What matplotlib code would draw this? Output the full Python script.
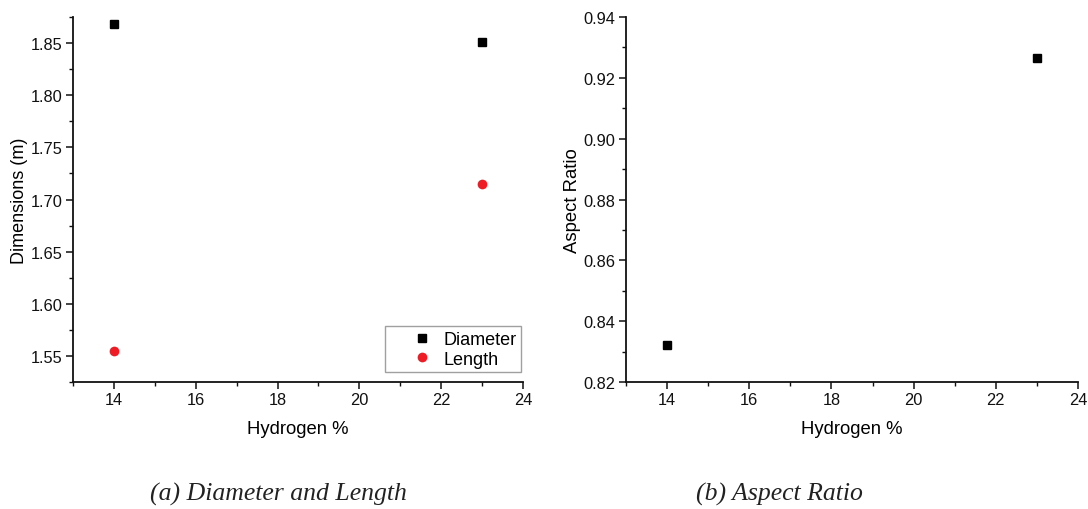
import matplotlib
matplotlib.use("Agg")
import matplotlib.pyplot as plt
from matplotlib.legend_handler import HandlerLine2D
from matplotlib.ticker import MultipleLocator, FormatStrFormatter

plt.rcParams['font.family'] = ['Liberation Sans', 'DejaVu Sans']

# Hydrogen content (%) and resulting vessel dimensions
hydrogen = [14, 23]
diameter = [1.868, 1.851]
length = [1.555, 1.715]
aspect_ratio = [0.8323, 0.9265]

red = '#ee1c25'


class OffsetMarkerHandler(HandlerLine2D):
    """Legend handler that puts the single marker nearer the label."""

    def get_xdata(self, legend, xdescent, ydescent, width, height, fontsize):
        xdata = [-xdescent + 0.64 * width]
        return xdata, xdata


fig = plt.figure(figsize=(10.88, 5.10), dpi=100)
ax1 = fig.add_axes([0.0671, 0.249, 0.4136, 0.7157])
ax2 = fig.add_axes([0.5754, 0.249, 0.4154, 0.7157])


def style_axis(ax):
    for side in ('top', 'right'):
        ax.spines[side].set_visible(False)
    for side in ('left', 'bottom'):
        ax.spines[side].set_linewidth(1.3)
        ax.spines[side].set_color('#111111')
    ax.tick_params(which='major', direction='out', length=5, width=1.1,
                   labelsize=11.8, colors='#111111', pad=2.5)
    ax.tick_params(which='minor', direction='out', length=3, width=1.0,
                   colors='#111111')
    ax.set_xlim(13, 24)
    ax.xaxis.set_major_locator(MultipleLocator(2))
    ax.xaxis.set_minor_locator(MultipleLocator(1))
    ax.set_xlabel('Hydrogen %', fontsize=13.3, labelpad=9)


# (a) diameter and length
style_axis(ax1)
d_line, = ax1.plot(hydrogen, diameter, linestyle='none', marker='s',
                   markersize=6, color='black', label='Diameter')
l_line, = ax1.plot(hydrogen, length, linestyle='none', marker='o',
                   markersize=7, color=red, markeredgewidth=0, label='Length')
ax1.set_ylim(1.525, 1.875)
ax1.yaxis.set_major_locator(MultipleLocator(0.05))
ax1.yaxis.set_minor_locator(MultipleLocator(0.025))
ax1.yaxis.set_major_formatter(FormatStrFormatter('%.2f'))
ax1.set_ylabel('Dimensions (m)', fontsize=13, labelpad=2)
leg = ax1.legend(loc='lower right', fontsize=13, frameon=True, fancybox=False,
                 edgecolor='#888888', handletextpad=0.15, borderpad=0.25,
                 labelspacing=0.15, handlelength=2.8, borderaxespad=0,
                 numpoints=1, bbox_to_anchor=(0.995, 0.027),
                 handler_map={d_line: OffsetMarkerHandler(),
                              l_line: OffsetMarkerHandler()})
leg.get_frame().set_linewidth(1.0)

# (b) aspect ratio
style_axis(ax2)
ax2.plot(hydrogen, aspect_ratio, linestyle='none', marker='s', markersize=6,
         color='black')
ax2.set_ylim(0.82, 0.94)
ax2.yaxis.set_major_locator(MultipleLocator(0.02))
ax2.yaxis.set_minor_locator(MultipleLocator(0.01))
ax2.yaxis.set_major_formatter(FormatStrFormatter('%.2f'))
ax2.set_ylabel('Aspect Ratio', fontsize=13.3, labelpad=2)

# Sub-figure captions
cap = dict(fontsize=18.5, fontstyle='italic', family='Liberation Serif',
           ha='center', va='center', color='#222222')
fig.text(0.2555, 0.031, '(a) Diameter and Length', **cap)
fig.text(0.716, 0.031, '(b) Aspect Ratio', **cap)

fig.savefig('out.png', dpi=100, facecolor='white')
